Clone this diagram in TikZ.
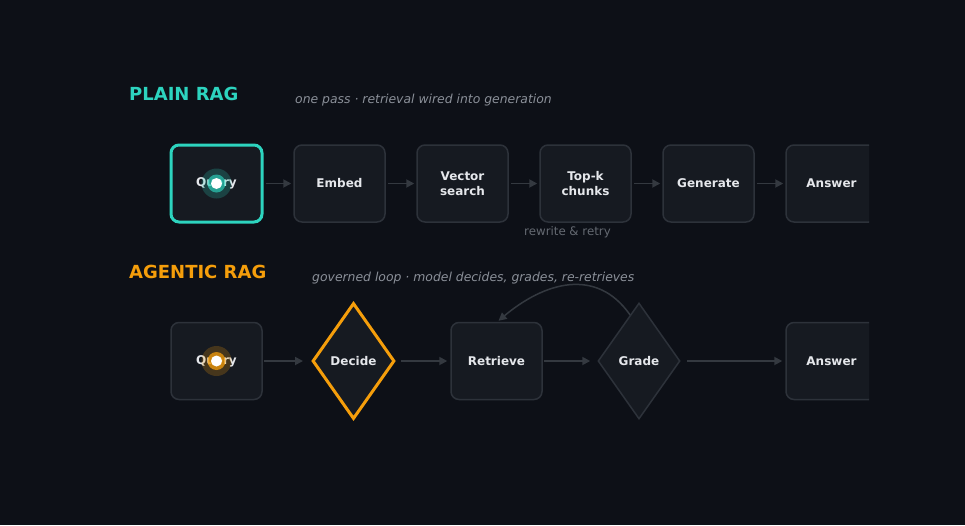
\documentclass[tikz,border=0pt]{standalone}
\usepackage{fontspec}
\setmainfont{DejaVu Sans}
\usetikzlibrary{arrows.meta,shapes.geometric,calc}
\definecolor{bg}{RGB}{13,16,23}
\definecolor{boxfill}{RGB}{22,26,33}
\definecolor{boxline}{RGB}{45,50,58}
\definecolor{arrowc}{RGB}{52,57,64}
\definecolor{txt}{RGB}{229,231,235}
\definecolor{teal}{RGB}{45,212,191}
\definecolor{amber}{RGB}{245,158,11}
\definecolor{subgray}{RGB}{138,143,152}
\definecolor{notegray}{RGB}{100,105,113}
\tikzset{
  stepbox/.style={draw=boxline, line width=1.5pt, fill=boxfill, rounded corners=8pt,
    minimum width=91pt, minimum height=77pt, inner sep=0pt, align=center,
    text=txt, font=\bfseries\fontsize{12}{14.5}\selectfont},
  decision/.style={diamond, draw=boxline, line width=1.5pt, fill=boxfill,
    minimum width=82pt, minimum height=116pt, inner sep=0pt,
    text=txt, font=\bfseries\fontsize{12}{14}\selectfont},
  flow/.style={draw=arrowc, line width=1.8pt, -{Triangle[length=8pt,width=8pt]}},
  title/.style={anchor=base west, inner sep=0pt, font=\bfseries\fontsize{18}{20}\selectfont},
  subtitle/.style={anchor=base west, inner sep=0pt, text=subgray, font=\itshape\fontsize{12.4}{14}\selectfont},
}
\begin{document}
\begin{tikzpicture}[x=1pt,y=-1pt]
\useasboundingbox (0,0) rectangle (965,525);
\fill[bg] (0,0) rectangle (965,525);

% titles
\node[title, text=teal] (t1) at (129,100) {PLAIN RAG};
\node[subtitle] (s1) at (295,103) {one pass · retrieval wired into generation};
\node[title, text=amber] (t2) at (129,278) {AGENTIC RAG};
\node[subtitle] (s2) at (312,281) {governed loop · model decides, grades, re-retrieves};

% plain row
\node[stepbox, draw=teal, line width=3pt] (pq) at (216.5,183.5) {Query};
\node[stepbox] (pe) at (339.5,183.5) {Embed};
\node[stepbox] (pv) at (462.5,183.5) {Vector\\search};
\node[stepbox] (pt) at (585.5,183.5) {Top-k\\chunks};
\node[stepbox] (pg) at (708.5,183.5) {Generate};
\begin{scope}
\clip (0,0) rectangle (869,525);
\node[stepbox] (pa) at (831.5,183.5) {Answer};
\node[stepbox] (aa) at (831.5,361) {Answer};
\end{scope}
\node[text=notegray, font=\fontsize{11.8}{13}\selectfont] (note) at (567.5,232.5) {rewrite \& retry};

\draw[flow, shorten <=2pt, shorten >=2pt] (pq) -- (pe);
\draw[flow, shorten <=2pt, shorten >=2pt] (pe) -- (pv);
\draw[flow, shorten <=2pt, shorten >=2pt] (pv) -- (pt);
\draw[flow, shorten <=2pt, shorten >=2pt] (pt) -- (pg);
\draw[flow, shorten <=2pt, shorten >=2pt] (pg) -- (pa);

% glow dot plain
\fill[teal, opacity=0.22] (pq.center) circle (15pt);
\fill[teal, opacity=0.65] (pq.center) circle (9pt);
\fill[white] (pq.center) circle (5.5pt);

% agentic row
\node[stepbox] (aq) at (216.5,361) {Query};
\node[decision, draw=amber, line width=3pt] (ad) at (353.5,361) {Decide};
\node[stepbox] (ar) at (496.5,361) {Retrieve};
\node[decision] (ag) at (639,361) {Grade};

\draw[flow, shorten <=1pt, shorten >=8pt] (aq) -- (ad);
\draw[flow, shorten <=5pt, shorten >=3pt] (ad) -- (ar);
\draw[flow, shorten <=1pt, shorten >=7pt] (ar) -- (ag);
\draw[flow, shorten <=6pt, shorten >=3pt] (ag) -- (aa);
\draw[draw=arrowc, line width=1.5pt, -{Triangle[length=8pt,width=8pt]}]
  (ag.101) to[out=125, in=40, looseness=1.15] ($(ar.north)+(2,-1)$);

% glow dot agentic
\fill[amber, opacity=0.22] (aq.center) circle (15pt);
\fill[amber, opacity=0.75] (aq.center) circle (9pt);
\fill[white] (aq.center) circle (5.5pt);
\end{tikzpicture}
\end{document}
